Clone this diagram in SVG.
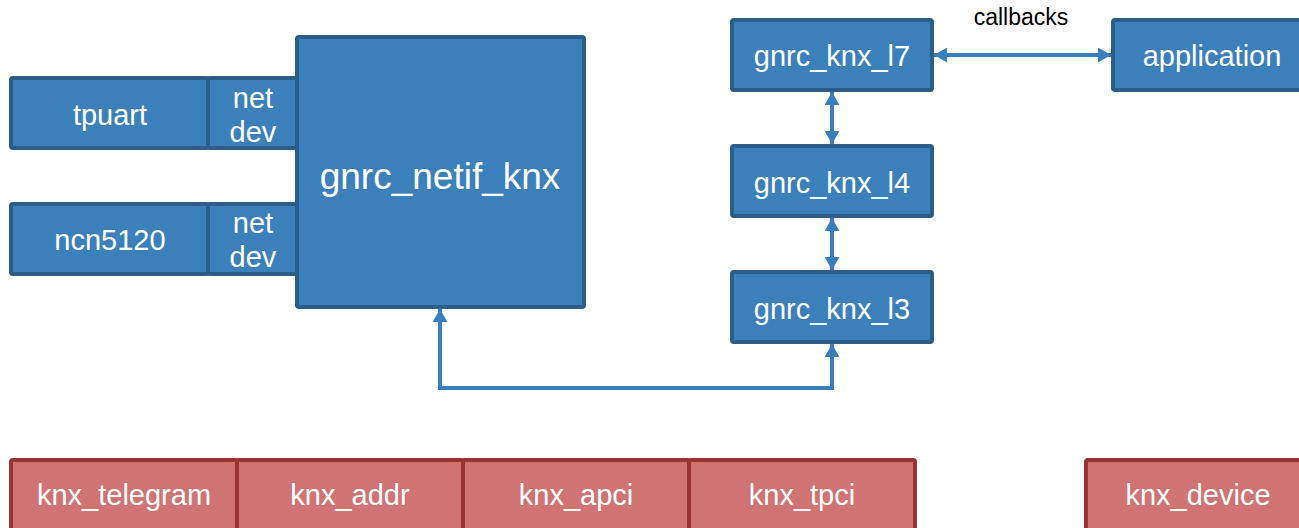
<svg xmlns="http://www.w3.org/2000/svg" width="1299" height="528" viewBox="0 0 1299 528">
  <defs>
    <marker id="head" viewBox="0 0 13 15" markerUnits="userSpaceOnUse" markerWidth="13" markerHeight="15" refX="13" refY="7.5" orient="auto-start-reverse">
      <path d="M0 0 L13 7.5 L0 15 z" fill="#3a7fbd"/>
    </marker>
    <style>
      .blue { fill: #3b80bb; stroke: #2a5d88; stroke-width: 4; }
      .red { fill: #cf7472; stroke: #993234; stroke-width: 4; }
      .lbl { font-family: "Liberation Sans", Arial, sans-serif; font-size: 29px; fill: #ffffff; text-anchor: middle; }
      .big { font-size: 37px; }
      .note { font-family: "Liberation Sans", Arial, sans-serif; font-size: 23px; fill: #000000; text-anchor: middle; }
      .wire { fill: none; stroke: #3a7fbd; stroke-width: 4; }
    </style>
  </defs>

  <!-- driver stack: device drivers with their netdev adapters -->
  <g id="tpuart">
    <rect class="blue" x="11" y="78" width="197" height="70" rx="2"/>
    <text class="lbl" x="110" y="125">tpuart</text>
  </g>
  <g id="tpuart-netdev">
    <rect class="blue" x="208" y="78" width="90" height="70" rx="2"/>
    <text class="lbl" x="253" y="108">net</text>
    <text class="lbl" x="253" y="142">dev</text>
  </g>
  <g id="ncn5120">
    <rect class="blue" x="11" y="204" width="197" height="70" rx="2"/>
    <text class="lbl" x="110" y="250">ncn5120</text>
  </g>
  <g id="ncn5120-netdev">
    <rect class="blue" x="208" y="204" width="90" height="70" rx="2"/>
    <text class="lbl" x="253" y="233">net</text>
    <text class="lbl" x="253" y="267">dev</text>
  </g>
  <g id="gnrc_netif_knx">
    <rect class="blue" x="297" y="37" width="287" height="270" rx="2"/>
    <text class="lbl big" x="440" y="189">gnrc_netif_knx</text>
  </g>

  <!-- protocol layers -->
  <g id="gnrc_knx_l7">
    <rect class="blue" x="732" y="20" width="200" height="70" rx="2"/>
    <text class="lbl" x="832" y="66">gnrc_knx_l7</text>
  </g>
  <g id="gnrc_knx_l4">
    <rect class="blue" x="732" y="146" width="200" height="70" rx="2"/>
    <text class="lbl" x="832" y="193">gnrc_knx_l4</text>
  </g>
  <g id="gnrc_knx_l3">
    <rect class="blue" x="732" y="272" width="200" height="70" rx="2"/>
    <text class="lbl" x="832" y="319">gnrc_knx_l3</text>
  </g>
  <g id="application">
    <rect class="blue" x="1113" y="20" width="200" height="70" rx="2"/>
    <text class="lbl" x="1212" y="66">application</text>
  </g>

  <!-- shared data types -->
  <g id="knx_telegram">
    <rect class="red" x="11" y="460" width="226" height="72" rx="2"/>
    <text class="lbl" x="124" y="505">knx_telegram</text>
  </g>
  <g id="knx_addr">
    <rect class="red" x="237" y="460" width="226" height="72" rx="2"/>
    <text class="lbl" x="350" y="505">knx_addr</text>
  </g>
  <g id="knx_apci">
    <rect class="red" x="463" y="460" width="226" height="72" rx="2"/>
    <text class="lbl" x="576" y="505">knx_apci</text>
  </g>
  <g id="knx_tpci">
    <rect class="red" x="689" y="460" width="226" height="72" rx="2"/>
    <text class="lbl" x="802" y="505">knx_tpci</text>
  </g>
  <g id="knx_device">
    <rect class="red" x="1086" y="460" width="230" height="72" rx="2"/>
    <text class="lbl" x="1198" y="505">knx_device</text>
  </g>

  <!-- connectors -->
  <g id="connectors">
    <line class="wire" x1="934" y1="55" x2="1111" y2="55" marker-start="url(#head)" marker-end="url(#head)"/>
    <text class="note" x="1021" y="25">callbacks</text>
    <line class="wire" x1="832" y1="92" x2="832" y2="144" marker-start="url(#head)" marker-end="url(#head)"/>
    <line class="wire" x1="832" y1="218" x2="832" y2="270" marker-start="url(#head)" marker-end="url(#head)"/>
    <path class="wire" d="M832 344 V388 H440 V309" marker-start="url(#head)" marker-end="url(#head)"/>
  </g>
</svg>
